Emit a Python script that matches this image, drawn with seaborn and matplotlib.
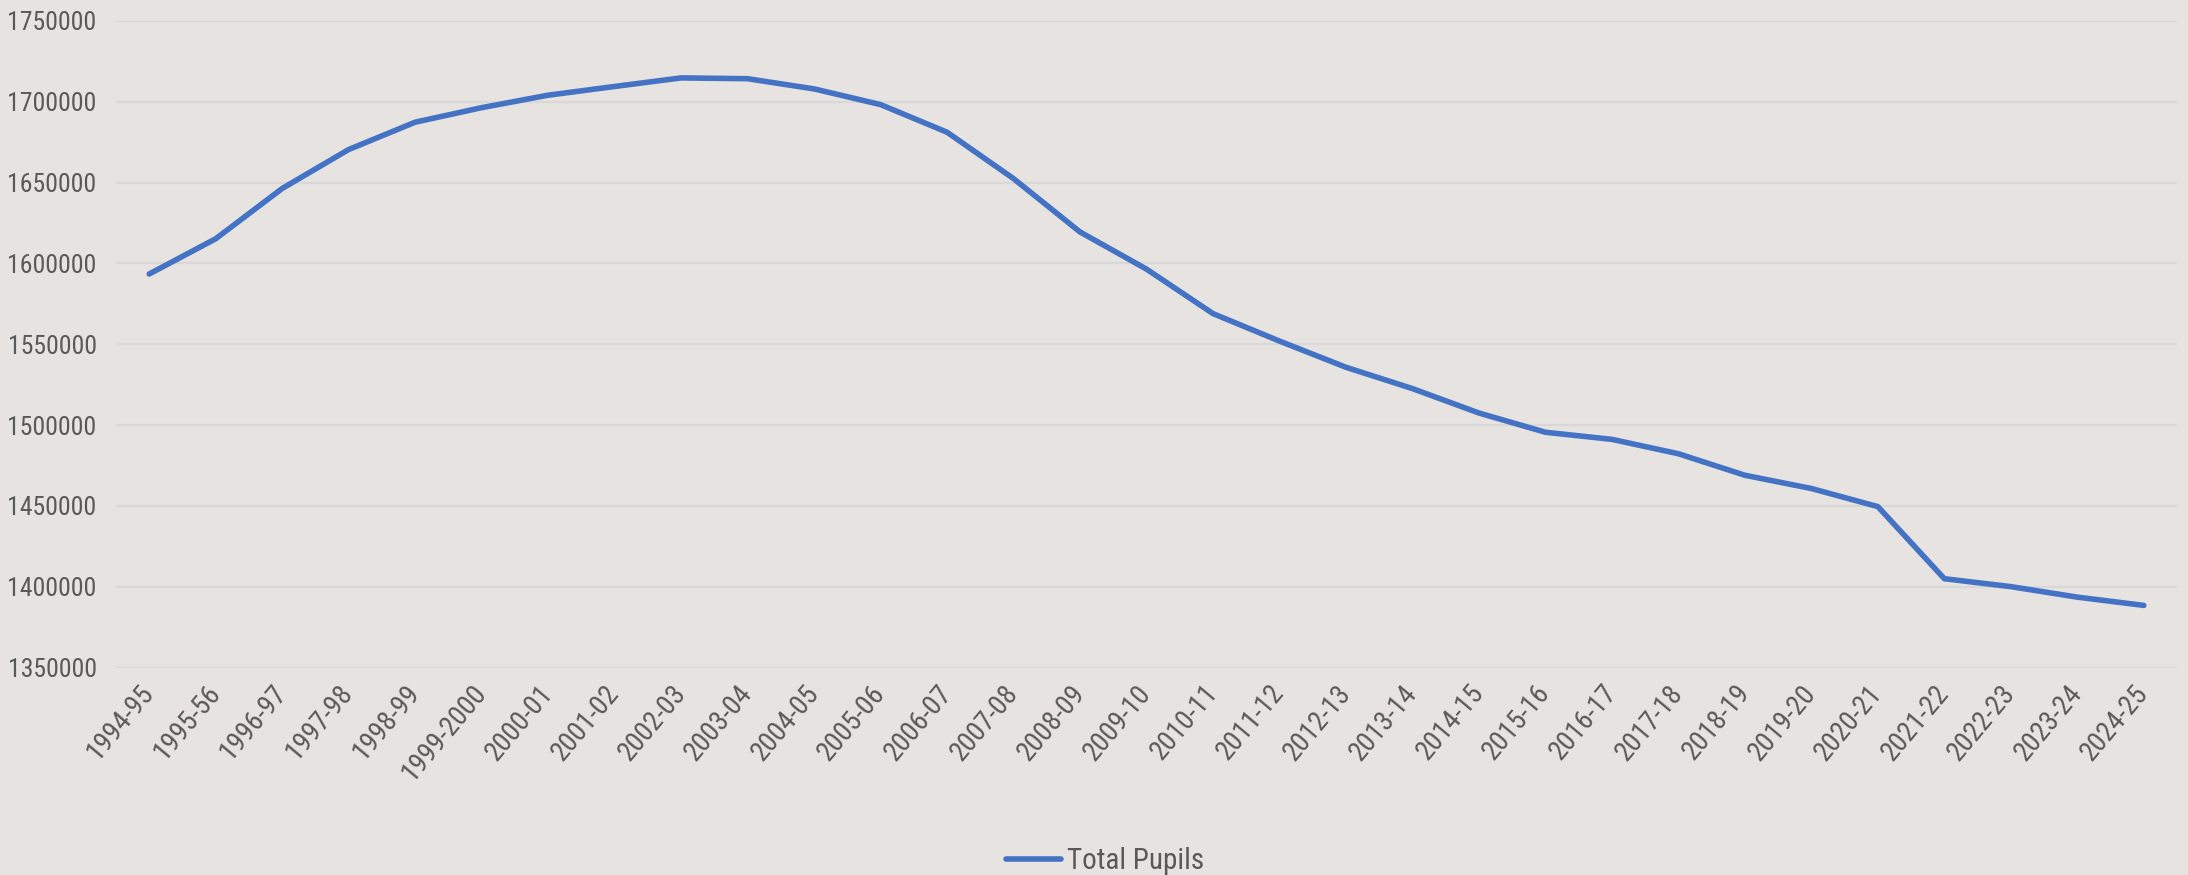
import pandas as pd
import numpy as np

import matplotlib
matplotlib.use("Agg")
import matplotlib.pyplot as plt
from matplotlib import font_manager
import seaborn as sns

# ==============================
# Data
# ==============================

years = [
    "1994-95", "1995-56", "1996-97", "1997-98", "1998-99", "1999-2000",
    "2000-01", "2001-02", "2002-03", "2003-04", "2004-05", "2005-06",
    "2006-07", "2007-08", "2008-09", "2009-10", "2010-11", "2011-12",
    "2012-13", "2013-14", "2014-15", "2015-16", "2016-17", "2017-18",
    "2018-19", "2019-20", "2020-21", "2021-22", "2022-23", "2023-24",
    "2024-25",
]

total_pupils = [
    1593500, 1615300, 1646400, 1670500, 1687400, 1696400,
    1704100, 1709500, 1714800, 1714300, 1708000, 1698300,
    1681200, 1652500, 1619500, 1596500, 1569000, 1552000,
    1535800, 1522600, 1507500, 1495600, 1491200, 1482300,
    1469000, 1460800, 1449600, 1405000, 1400100, 1393600,
    1388500,
]

y_ticks = [1350000, 1400000, 1450000, 1500000, 1550000, 1600000,
           1650000, 1700000, 1750000]

df = pd.DataFrame({"Year": years, "Total Pupils": total_pupils})

# ==============================
# Style
# ==============================

bg = "#E6E3E0"
text_col = "#595959"
line_col = "#4472C4"

sns.set_theme(style="white")

# pick a narrow font if one is installed (reference uses a narrow Calibri look)
installed = {f.name for f in font_manager.fontManager.ttflist}
narrow = None
for name in ["Liberation Sans Narrow", "Roboto Condensed", "DejaVu Sans Condensed",
             "Open Sans Condensed"]:
    if name in installed:
        narrow = name
        break

if narrow is not None:
    plt.rcParams["font.family"] = [narrow, "DejaVu Sans"]
    y_size, x_size, leg_size = 18.5, 20, 21
else:
    plt.rcParams["font.family"] = ["Lato", "DejaVu Sans"]
    y_size, x_size, leg_size = 16, 17, 18

fig = plt.figure(figsize=(21.88, 8.75), dpi=100, facecolor=bg)
ax = fig.add_axes([0.053, 0.237, 0.942, 0.739])
ax.set_facecolor(bg)

sns.lineplot(
    data=df,
    x="Year",
    y="Total Pupils",
    sort=False,
    color=line_col,
    linewidth=4,
    label="Total Pupils",
    ax=ax,
)

ax.set_ylim(1350000, 1750000)
ax.set_yticks(y_ticks)
ax.set_yticklabels([str(v) for v in y_ticks])
ax.set_xlim(-0.5, len(years) - 0.5)

ax.grid(axis="y", color="#D9D8D8", linewidth=1.6)
ax.set_axisbelow(True)
for s in ax.spines.values():
    s.set_visible(False)

ax.tick_params(axis="both", length=0, colors=text_col)
ax.tick_params(axis="y", pad=14, labelsize=y_size)
ax.tick_params(axis="x", pad=15, labelsize=x_size)
for lbl in ax.get_xticklabels():
    lbl.set_rotation(50)
    lbl.set_ha("right")
    lbl.set_va("center")
    lbl.set_rotation_mode("anchor")

ax.set_xlabel("")
ax.set_ylabel("")

ax.get_legend().remove()
fig.legend(
    loc="lower center",
    bbox_to_anchor=(0.505, -0.03),
    frameon=False,
    fontsize=leg_size,
    labelcolor=text_col,
    handlelength=1.9,
    handletextpad=0.2,
)

fig.savefig("out.png", dpi=100, facecolor=bg)
